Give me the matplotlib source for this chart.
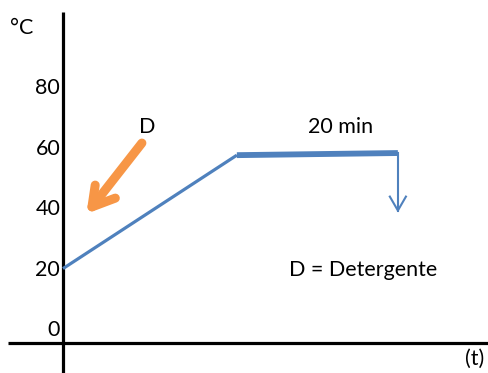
import matplotlib
matplotlib.use("Agg")
import matplotlib.pyplot as plt

plt.rcParams['font.family'] = ['Lato', 'DejaVu Sans']

# data (time in minutes, temperature in °C)
ramp_t = [0.0, 21.6]
ramp_v = [20.3, 57.8]
hold_t = [21.6, 41.6]
hold_v = [57.8, 58.5]
drop_t = [41.6, 41.6]
drop_v = [58.5, 39.5]
y_ticks = [0, 20, 40, 60, 80]
y_labels = ["0", "20", "40", "60", "80"]
det_start = [9.8, 61.8]
det_tip = [3.6, 40.7]
det_arm1 = [4.0, 47.9]
det_arm2 = [6.5, 43.6]

BLUE = "#4F81BD"
ORANGE = "#F79646"

fig = plt.figure(figsize=(4.89, 3.73), dpi=100)
ax = fig.add_axes([0, 0, 1, 1])
ax.set_xlim(-63 / 8.05, (489 - 63) / 8.05)
ax.set_ylim((330 - 373) / 3.025, 330 / 3.025)
ax.axis("off")

# axes lines
ax.plot([0, 0], [-20, 105.2], color="black", lw=2.3, solid_capstyle="butt")
ax.plot([-6.85, 60], [-4.3, -4.3], color="black", lw=2.3, solid_capstyle="butt")

# temperature profile
ax.plot(ramp_t, ramp_v, color=BLUE, lw=2.3, solid_capstyle="butt")
ax.plot(hold_t, hold_v, color=BLUE, lw=4.2, solid_capstyle="butt")
ax.plot(drop_t, drop_v, color=BLUE, lw=1.5)
ax.plot([drop_t[1] - 1.0, drop_t[1], drop_t[1] + 1.0],
        [drop_v[1] + 4.6, drop_v[1], drop_v[1] + 4.6], color=BLUE, lw=1.5)

# detergent arrow
ax.plot([det_start[0], det_tip[0]], [det_start[1], det_tip[1]], color=ORANGE,
        lw=6.5, solid_capstyle="round")
ax.plot([det_arm1[0], det_tip[0], det_arm2[0]], [det_arm1[1], det_tip[1], det_arm2[1]],
        color=ORANGE, lw=6.5, solid_capstyle="round", solid_joinstyle="round")

# tick labels
for v, lab in zip(y_ticks, y_labels):
    ax.text(-0.35, v, lab, ha="right", va="center", fontsize=15.5)

ax.text(-5.1, 99.9, "°C", ha="center", va="center", fontsize=15.5)
ax.text((475 - 63) / 8.05, -9.5, "(t)", ha="center", va="center", fontsize=15.5)
ax.text(10.4, 67.1, "D", ha="center", va="center", fontsize=15.5)
ax.text(34.5, 67.1, "20 min", ha="center", va="center", fontsize=15.5)
ax.text(37.3, 19.8, "D = Detergente", ha="center", va="center", fontsize=15.5)

fig.savefig("out.png", dpi=100)
